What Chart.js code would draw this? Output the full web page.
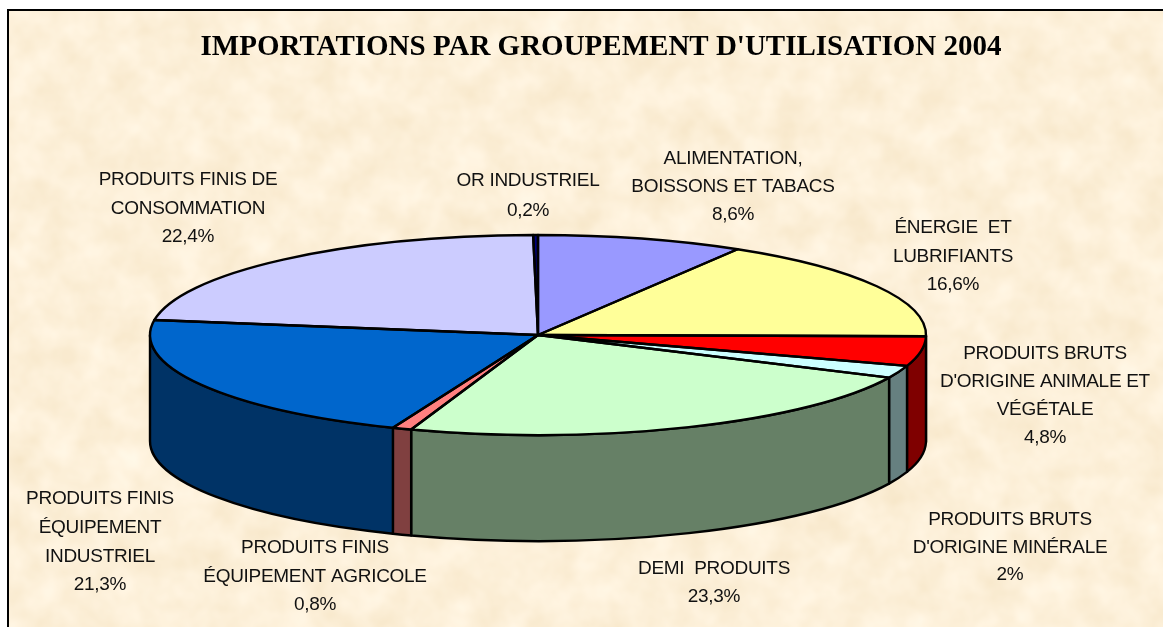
<!DOCTYPE html>
<html lang="fr">
<head>
<meta charset="utf-8">
<title>Importations par groupement d'utilisation 2004</title>
<script src="https://cdn.jsdelivr.net/npm/chart.js@4"></script>
<style>
html,body{margin:0;padding:0;background:#fff;overflow:hidden}
#frame{position:absolute;left:7px;top:9px;width:1156px;height:618px;box-sizing:border-box;border-left:2px solid #000;border-top:2px solid #000;
background-color:#fdf1da;
background-image:url("data:image/svg+xml;utf8,<svg xmlns='http://www.w3.org/2000/svg' width='1163' height='627'><filter id='n' color-interpolation-filters='sRGB'><feTurbulence type='fractalNoise' baseFrequency='0.03' numOctaves='3' seed='7'/><feColorMatrix values='0.05 0 0 0 0.965  0.08 0 0 0 0.90  0.14 0 0 0 0.78  0 0 0 0 1'/></filter><rect width='1163' height='627' filter='url(%23n)'/></svg>");}
canvas{position:absolute;left:0;top:0}
</style>
</head>
<body>
<div id="frame"></div>
<canvas id="c" width="1163" height="627"></canvas>
<script>
const chartTitle = "IMPORTATIONS PAR GROUPEMENT D'UTILISATION 2004";
const categories = [
  "ALIMENTATION,\nBOISSONS ET TABACS",
  "ÉNERGIE  ET\nLUBRIFIANTS",
  "PRODUITS BRUTS\nD'ORIGINE ANIMALE ET\nVÉGÉTALE",
  "PRODUITS BRUTS\nD'ORIGINE MINÉRALE",
  "DEMI  PRODUITS",
  "PRODUITS FINIS\nÉQUIPEMENT AGRICOLE",
  "PRODUITS FINIS\nÉQUIPEMENT\nINDUSTRIEL",
  "PRODUITS FINIS DE\nCONSOMMATION",
  "OR INDUSTRIEL"
];
const values = [8.6, 16.6, 4.8, 2, 23.3, 0.8, 21.3, 22.4, 0.2];
const topColors = ["#9999FF","#FFFF99","#FF0000","#CCFFFF","#CCFFCC","#FF8080","#0066CC","#CCCCFF","#000080"];
const sideColors = ["#4C4C80","#80804C","#7F0000","#668080","#668066","#804040","#003366","#666680","#000040"];
// centre x and first-line y of each label block, and its line pitch
const labelX = [733, 953, 1045, 1010, 714, 315, 100, 188, 528];
const labelY = [159, 228, 354, 520, 569, 548, 499, 180, 181];
const labelPitch = [27.7, 28.5, 28, 27.5, 28, 28.5, 28.7, 28.5, 30];

const squash = 100 / 388, depth = 106;
const TWO_PI = Math.PI * 2;

const pie3d = {
  id: 'pie3d',
  beforeDatasetsDraw(chart) {
    const ctx = chart.ctx;
    const arcs = chart.getDatasetMeta(0).data;
    ctx.save();
    ctx.lineWidth = 2.4; ctx.strokeStyle = '#000'; ctx.lineJoin = 'round';
    arcs.forEach((el, i) => {
      let a = el.startAngle, b = el.endAngle;
      while (a < 0 && b <= 0) { a += TWO_PI; b += TWO_PI; }
      const s = Math.max(a, 0), e = Math.min(b, Math.PI);
      if (e <= s) return;
      const rx = el.outerRadius, ry = rx * squash;
      ctx.beginPath();
      ctx.ellipse(el.x, el.y, rx, ry, 0, s, e);
      ctx.ellipse(el.x, el.y + depth, rx, ry, 0, e, s, true);
      ctx.closePath();
      ctx.fillStyle = sideColors[i];
      ctx.fill(); ctx.stroke();
    });
    ctx.restore();
    const el0 = arcs[0];
    ctx.save();
    ctx.translate(el0.x, el0.y); ctx.scale(1, squash); ctx.translate(-el0.x, -el0.y);
  },
  afterDatasetsDraw(chart) {
    const ctx = chart.ctx;
    ctx.restore();
    const arcs = chart.getDatasetMeta(0).data;
    ctx.save();
    ctx.lineWidth = 2.4; ctx.strokeStyle = '#000'; ctx.lineJoin = 'round';
    arcs.forEach(el => {
      const rx = el.outerRadius, ry = rx * squash;
      ctx.beginPath();
      ctx.moveTo(el.x, el.y);
      ctx.ellipse(el.x, el.y, rx, ry, 0, el.startAngle, el.endAngle);
      ctx.closePath();
      ctx.stroke();
    });
    ctx.fillStyle = '#000';
    ctx.textAlign = 'center';
    ctx.textBaseline = 'alphabetic';
    ctx.font = 'bold 29px "Liberation Serif"';
    ctx.fillText(chartTitle, 601, 55);
    ctx.textBaseline = 'middle';
    ctx.font = '19px "Liberation Sans"';
    ctx.letterSpacing = '-0.3px';
    ctx.fillStyle = '#111';
    categories.forEach((cat, i) => {
      const lines = cat.split('\n').concat(String(values[i]).replace('.', ',') + '%');
      lines.forEach((ln, j) => ctx.fillText(ln, labelX[i], labelY[i] + j * labelPitch[i]));
    });
    ctx.restore();
  }
};

new Chart(document.getElementById('c'), {
  type: 'pie',
  data: { labels: categories, datasets: [{ data: values, backgroundColor: topColors, borderWidth: 0, clip: false }] },
  options: {
    responsive: false, animation: false, radius: 388,
    layout: { padding: { top: 43, right: 87 } },
    events: [],
    plugins: { legend: { display: false }, tooltip: { enabled: false } }
  },
  plugins: [pie3d]
});
</script>
</body>
</html>
